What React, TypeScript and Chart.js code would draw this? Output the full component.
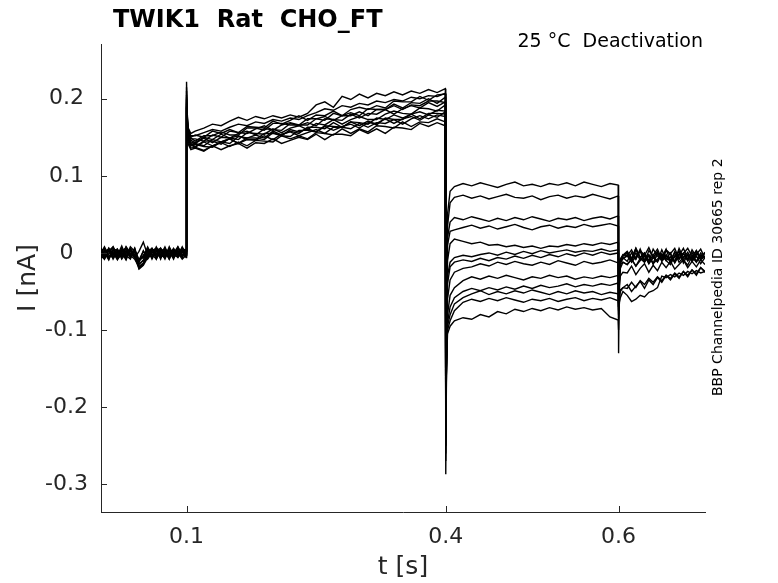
import { useEffect, useRef } from 'react'
import Chart from 'chart.js/auto'

// sample times [s], denser around the voltage steps
const time = [
  0, 0.005, 0.01, 0.015, 0.02, 0.025, 0.03, 0.035, 0.04, 0.045,
  0.05, 0.055, 0.06, 0.065, 0.07, 0.075, 0.08, 0.085, 0.09, 0.095, 0.0995,
  0.1, 0.1006, 0.102, 0.105,
  0.11, 0.12, 0.13, 0.14, 0.15, 0.16, 0.17, 0.18, 0.19, 0.2,
  0.21, 0.22, 0.23, 0.24, 0.25, 0.26, 0.27, 0.28, 0.29, 0.3,
  0.31, 0.32, 0.33, 0.34, 0.35, 0.36, 0.37, 0.38, 0.39, 0.3995,
  0.4, 0.4006, 0.402, 0.405,
  0.41, 0.42, 0.43, 0.44, 0.45, 0.46, 0.47, 0.48, 0.49, 0.5,
  0.51, 0.52, 0.53, 0.54, 0.55, 0.56, 0.57, 0.58, 0.59, 0.5995,
  0.6, 0.6006, 0.602, 0.605,
  0.61, 0.615, 0.62, 0.625, 0.63, 0.635, 0.64, 0.645, 0.65, 0.655,
  0.66, 0.665, 0.67, 0.675, 0.68, 0.685, 0.69, 0.695, 0.7,
]

// current [nA], one array per sweep
const sweep01 = [
  0.005, -0.003, 0.006, -0.008, 0.002, -0.005, 0.008, -0.002, 0.003, -0.009,
  -0.006, 0.005, -0.003, 0.006, -0.005, 0.002, -0.008, 0.005, -0.002, 0.006, 0.003,
  0.222, 0.185, 0.16, 0.15,
  0.153, 0.15, 0.158, 0.155, 0.16, 0.156, 0.164, 0.163, 0.162, 0.171,
  0.167, 0.172, 0.178, 0.172, 0.179, 0.178, 0.184, 0.178, 0.186, 0.189,
  0.186, 0.191, 0.188, 0.197, 0.196, 0.196, 0.203, 0.198, 0.205, 0.206,
  -0.287, -0.18, 0.05, 0.08,
  0.086, 0.09, 0.087, 0.091, 0.088, 0.085, 0.089, 0.092, 0.087, 0.089,
  0.086, 0.09, 0.088, 0.091, 0.087, 0.092, 0.089, 0.086, 0.09, 0.088,
  -0.13, -0.06, -0.015, -0.004,
  0.001, -0.009, 0.006, -0.006, -0.012, 0.003, -0.004, -0.011, 0.004, -0.008,
  0.0, -0.013, -0.003, 0.006, -0.008, 0.001, -0.011, -0.003, -0.006,
]
const sweep02 = [
  -0.006, 0.003, -0.002, 0.008, -0.005, 0.0, -0.009, 0.005, -0.003, -0.018,
  -0.013, -0.005, 0.006, -0.003, 0.002, -0.008, 0.005, 0.0, -0.006, 0.003, -0.002,
  0.205, 0.175, 0.155, 0.146,
  0.143, 0.15, 0.147, 0.154, 0.149, 0.155, 0.158, 0.153, 0.161, 0.16,
  0.159, 0.168, 0.165, 0.169, 0.165, 0.174, 0.173, 0.172, 0.18, 0.175,
  0.181, 0.18, 0.186, 0.18, 0.187, 0.191, 0.188, 0.195, 0.19, 0.196,
  -0.25, -0.16, 0.035, 0.065,
  0.072, 0.075, 0.071, 0.074, 0.07, 0.073, 0.076, 0.072, 0.071, 0.074,
  0.069, 0.073, 0.075, 0.071, 0.074, 0.072, 0.076, 0.073, 0.07, 0.074,
  -0.07, -0.03, -0.01, -0.006,
  -0.011, 0.0, -0.008, 0.005, -0.009, -0.002, -0.014, 0.0, -0.006, 0.005,
  -0.011, -0.004, 0.002, -0.013, -0.002, -0.008, 0.003, -0.009, -0.004,
]
const sweep03 = [
  0.002, -0.008, 0.005, 0.0, -0.003, 0.009, -0.005, 0.003, -0.006, 0.002,
  0.014, -0.003, 0.005, -0.008, 0.006, -0.002, 0.003, -0.005, 0.008, -0.003, 0.0,
  0.215, 0.18, 0.162, 0.155,
  0.158, 0.162, 0.167, 0.165, 0.171, 0.176, 0.172, 0.177, 0.174, 0.178,
  0.175, 0.179, 0.176, 0.181, 0.192, 0.196, 0.189, 0.203, 0.199, 0.206,
  0.201, 0.207, 0.204, 0.209, 0.205, 0.21, 0.207, 0.212, 0.208, 0.213,
  -0.27, -0.19, 0.02, 0.04,
  0.046, 0.043, 0.047, 0.044, 0.041, 0.045, 0.042, 0.046, 0.043, 0.047,
  0.044, 0.041, 0.045, 0.043, 0.046, 0.042, 0.045, 0.047, 0.044, 0.048,
  -0.085, -0.04, -0.012, -0.003,
  0.002, -0.007, 0.006, -0.006, 0.0, -0.011, 0.005, -0.004, -0.009, 0.003,
  -0.002, -0.011, 0.006, -0.006, 0.001, -0.009, -0.002, 0.005, -0.007,
]
const sweep04 = [
  -0.003, 0.006, -0.008, 0.003, 0.005, -0.006, 0.002, -0.005, 0.006, -0.02,
  -0.015, 0.003, -0.006, 0.002, -0.003, 0.008, -0.005, 0.003, 0.0, -0.008, -0.003,
  0.195, 0.17, 0.15, 0.141,
  0.142, 0.139, 0.147, 0.144, 0.142, 0.151, 0.149, 0.153, 0.149, 0.158,
  0.153, 0.158, 0.155, 0.163, 0.163, 0.161, 0.169, 0.163, 0.17, 0.169,
  0.167, 0.175, 0.173, 0.179, 0.175, 0.18, 0.183, 0.179, 0.185, 0.184,
  -0.24, -0.17, 0.01, 0.028,
  0.03, 0.033, 0.036, 0.032, 0.035, 0.031, 0.034, 0.037, 0.033, 0.03,
  0.034, 0.036, 0.032, 0.035, 0.033, 0.037, 0.034, 0.036, 0.038, 0.035,
  -0.065, -0.03, -0.012, -0.008,
  -0.002, -0.012, -0.005, 0.002, -0.011, -0.004, -0.014, 0.0, -0.009, -0.002,
  -0.012, -0.005, 0.002, -0.009, -0.016, -0.004, -0.011, 0.0, -0.007,
]
const sweep05 = [
  0.008, -0.002, 0.003, -0.006, 0.0, 0.005, -0.008, 0.006, -0.003, -0.009,
  0.002, -0.005, 0.003, 0.006, -0.006, 0.0, 0.005, -0.003, 0.006, -0.005, 0.002,
  0.2, 0.172, 0.156, 0.149,
  0.145, 0.152, 0.152, 0.157, 0.153, 0.153, 0.162, 0.162, 0.159, 0.168,
  0.168, 0.166, 0.166, 0.174, 0.174, 0.172, 0.181, 0.178, 0.182, 0.178,
  0.187, 0.186, 0.186, 0.193, 0.188, 0.195, 0.194, 0.2, 0.194, 0.202,
  -0.23, -0.15, -0.01, 0.012,
  0.018, 0.015, 0.012, 0.014, 0.01, 0.011, 0.008, 0.01, 0.007, 0.009,
  0.006, 0.009, 0.008, 0.011, 0.009, 0.012, 0.01, 0.013, 0.011, 0.014,
  -0.06, -0.025, -0.008, -0.002,
  -0.004, 0.004, -0.008, 0.003, -0.003, 0.007, -0.006, 0.001, -0.01, 0.004,
  -0.001, 0.006, -0.008, -0.001, 0.006, -0.004, 0.003, -0.006, 0.001,
]
const sweep06 = [
  -0.005, 0.0, -0.009, 0.005, -0.002, 0.003, 0.006, -0.006, 0.002, -0.014,
  -0.01, 0.006, -0.002, -0.008, 0.003, 0.005, -0.006, 0.002, -0.003, 0.008, -0.002,
  0.19, 0.165, 0.148, 0.139,
  0.141, 0.138, 0.137, 0.144, 0.148, 0.142, 0.147, 0.146, 0.152, 0.147,
  0.154, 0.157, 0.152, 0.156, 0.16, 0.155, 0.163, 0.163, 0.161, 0.168,
  0.163, 0.169, 0.168, 0.173, 0.167, 0.174, 0.178, 0.174, 0.179, 0.177,
  -0.22, -0.14, -0.03, -0.012,
  -0.006, -0.003, -0.005, -0.002, 0.0, -0.003, 0.001, -0.002, 0.002, -0.001,
  0.003, 0.0, 0.002, 0.004, 0.001, 0.003, 0.002, 0.005, 0.002, 0.004,
  -0.05, -0.02, -0.01, -0.007,
  -0.004, -0.011, 0.0, -0.009, -0.002, -0.014, -0.006, 0.002, -0.011, -0.004,
  -0.009, 0.0, -0.012, -0.006, -0.002, -0.011, -0.004, -0.014, -0.006,
]
const sweep07 = [
  0.003, -0.005, 0.002, 0.006, -0.008, -0.002, 0.005, -0.003, -0.008, -0.018,
  -0.013, -0.002, 0.005, 0.0, -0.006, 0.003, -0.002, 0.006, -0.005, 0.0, 0.005,
  0.21, 0.178, 0.16, 0.152,
  0.152, 0.156, 0.16, 0.158, 0.163, 0.167, 0.165, 0.17, 0.168, 0.173,
  0.171, 0.175, 0.173, 0.178, 0.182, 0.187, 0.185, 0.191, 0.189, 0.194,
  0.192, 0.197, 0.195, 0.199, 0.197, 0.202, 0.2, 0.204, 0.203, 0.207,
  -0.26, -0.17, -0.04, -0.018,
  -0.012, -0.009, -0.011, -0.007, -0.01, -0.006, -0.008, -0.004, -0.007, -0.003,
  -0.006, -0.002, -0.005, -0.001, -0.004, 0.0, -0.003, 0.001, -0.002, 0.0,
  -0.055, -0.022, -0.008, -0.004,
  0.0, -0.008, 0.004, -0.006, 0.0, -0.01, -0.003, 0.005, -0.008, -0.003,
  -0.012, 0.002, -0.006, 0.0, -0.01, 0.004, -0.005, -0.008, 0.0,
]
const sweep08 = [
  -0.002, 0.008, -0.003, -0.006, 0.003, 0.0, -0.005, 0.008, 0.002, -0.011,
  -0.003, 0.005, -0.008, 0.003, 0.006, -0.005, 0.0, -0.006, 0.003, -0.002, -0.005,
  0.198, 0.17, 0.152, 0.144,
  0.142, 0.149, 0.143, 0.15, 0.149, 0.147, 0.156, 0.155, 0.154, 0.161,
  0.156, 0.162, 0.165, 0.16, 0.168, 0.166, 0.173, 0.167, 0.173, 0.177,
  0.173, 0.173, 0.18, 0.184, 0.181, 0.18, 0.188, 0.187, 0.184, 0.192,
  -0.21, -0.13, -0.06, -0.035,
  -0.025, -0.02, -0.018, -0.014, -0.017, -0.012, -0.015, -0.011, -0.014, -0.016,
  -0.012, -0.015, -0.01, -0.013, -0.016, -0.011, -0.014, -0.012, -0.009, -0.013,
  -0.06, -0.03, -0.015, -0.012,
  -0.015, -0.008, -0.017, -0.007, -0.012, -0.003, -0.014, -0.008, -0.001, -0.01,
  -0.005, -0.012, -0.001, -0.009, -0.003, -0.01, 0.0, -0.007, -0.005,
]
const sweep09 = [
  0.0, -0.006, 0.006, -0.003, 0.005, -0.008, 0.0, 0.003, -0.005, -0.021,
  -0.016, -0.006, 0.002, 0.005, -0.003, -0.006, 0.006, -0.002, 0.002, -0.006, 0.003,
  0.188, 0.162, 0.144, 0.136,
  0.137, 0.133, 0.139, 0.143, 0.138, 0.144, 0.139, 0.146, 0.145, 0.144,
  0.152, 0.148, 0.152, 0.148, 0.156, 0.155, 0.153, 0.161, 0.155, 0.161,
  0.157, 0.165, 0.164, 0.162, 0.17, 0.164, 0.17, 0.169, 0.174, 0.17,
  -0.2, -0.14, -0.08, -0.055,
  -0.045, -0.036, -0.031, -0.034, -0.03, -0.033, -0.029, -0.032, -0.035, -0.031,
  -0.033, -0.029, -0.032, -0.03, -0.034, -0.031, -0.033, -0.03, -0.032, -0.029,
  -0.065, -0.055, -0.048, -0.045,
  -0.046, -0.038, -0.045, -0.036, -0.041, -0.033, -0.038, -0.031, -0.036, -0.029,
  -0.033, -0.026, -0.031, -0.024, -0.029, -0.022, -0.027, -0.019, -0.024,
]
const sweep10 = [
  0.006, -0.003, -0.005, 0.002, -0.006, 0.006, -0.003, -0.008, 0.005, -0.015,
  -0.009, 0.002, 0.006, -0.005, 0.0, 0.003, -0.008, 0.005, -0.003, 0.002, -0.006,
  0.202, 0.174, 0.155, 0.148,
  0.148, 0.145, 0.153, 0.15, 0.158, 0.156, 0.155, 0.161, 0.165, 0.159,
  0.166, 0.169, 0.166, 0.166, 0.174, 0.177, 0.172, 0.178, 0.178, 0.183,
  0.178, 0.186, 0.186, 0.191, 0.186, 0.192, 0.191, 0.197, 0.197, 0.195,
  -0.24, -0.16, -0.09, -0.07,
  -0.058, -0.05, -0.046, -0.049, -0.045, -0.048, -0.044, -0.047, -0.043, -0.046,
  -0.042, -0.045, -0.043, -0.04, -0.044, -0.041, -0.043, -0.04, -0.042, -0.039,
  -0.07, -0.04, -0.02, -0.012,
  -0.015, -0.008, -0.017, -0.01, -0.004, -0.013, -0.006, -0.012, -0.002, -0.01,
  -0.015, -0.004, -0.008, -0.001, -0.01, -0.005, -0.012, -0.003, -0.007,
]
const sweep11 = [
  -0.008, 0.002, 0.005, -0.005, 0.002, -0.003, 0.008, 0.0, -0.006, -0.012,
  0.003, -0.008, 0.0, 0.005, -0.008, 0.006, -0.003, 0.0, 0.008, -0.003, 0.002,
  0.193, 0.166, 0.15, 0.142,
  0.138, 0.145, 0.145, 0.141, 0.149, 0.152, 0.147, 0.147, 0.155, 0.155,
  0.152, 0.16, 0.157, 0.161, 0.157, 0.165, 0.164, 0.163, 0.17, 0.165,
  0.171, 0.166, 0.175, 0.173, 0.173, 0.18, 0.174, 0.181, 0.181, 0.18,
  -0.23, -0.15, -0.095, -0.08,
  -0.066, -0.058, -0.053, -0.049, -0.054, -0.05, -0.053, -0.049, -0.052, -0.048,
  -0.051, -0.054, -0.05, -0.053, -0.049, -0.052, -0.05, -0.054, -0.051, -0.053,
  -0.075, -0.065, -0.058, -0.05,
  -0.055, -0.063, -0.06, -0.055, -0.057, -0.051, -0.049, -0.045, -0.03, -0.032,
  -0.028, -0.031, -0.026, -0.029, -0.024, -0.027, -0.023, -0.026, -0.024,
]
const sweep12 = [
  0.003, 0.005, -0.006, 0.0, -0.009, 0.003, -0.002, 0.005, -0.002, -0.019,
  -0.014, -0.003, -0.005, 0.008, -0.002, -0.003, 0.002, -0.008, 0.005, 0.003, -0.003,
  0.185, 0.158, 0.141, 0.134,
  0.136, 0.132, 0.139, 0.134, 0.139, 0.142, 0.136, 0.143, 0.142, 0.148,
  0.142, 0.146, 0.15, 0.147, 0.154, 0.147, 0.154, 0.154, 0.152, 0.16,
  0.155, 0.161, 0.155, 0.163, 0.162, 0.16, 0.168, 0.164, 0.169, 0.165,
  -0.22, -0.14, -0.1, -0.088,
  -0.075, -0.064, -0.06, -0.063, -0.059, -0.062, -0.058, -0.061, -0.064, -0.06,
  -0.062, -0.059, -0.063, -0.06, -0.058, -0.062, -0.059, -0.061, -0.058, -0.062,
  -0.08, -0.045, -0.03, -0.025,
  -0.026, -0.017, -0.028, -0.02, -0.014, -0.025, -0.016, -0.023, -0.012, -0.019,
  -0.011, -0.021, -0.015, -0.009, -0.019, -0.011, -0.018, -0.009, -0.015,
]
const sweep13 = [
  -0.003, -0.008, 0.003, 0.008, -0.002, -0.005, 0.003, -0.006, 0.006, -0.01,
  -0.005, 0.008, -0.003, -0.002, 0.005, -0.006, 0.008, -0.003, -0.005, 0.005, 0.0,
  0.19, 0.163, 0.147, 0.14,
  0.137, 0.144, 0.139, 0.144, 0.148, 0.142, 0.149, 0.149, 0.147, 0.156,
  0.152, 0.151, 0.159, 0.159, 0.157, 0.164, 0.159, 0.164, 0.167, 0.162,
  0.169, 0.168, 0.174, 0.168, 0.174, 0.177, 0.172, 0.179, 0.176, 0.183,
  -0.25, -0.16, -0.105, -0.095,
  -0.088, -0.084, -0.086, -0.08, -0.083, -0.076, -0.079, -0.073, -0.076, -0.072,
  -0.075, -0.071, -0.074, -0.07, -0.073, -0.071, -0.074, -0.072, -0.083, -0.087,
  -0.1, -0.07, -0.05, -0.045,
  -0.041, -0.05, -0.043, -0.037, -0.046, -0.035, -0.041, -0.032, -0.038, -0.029,
  -0.035, -0.027, -0.033, -0.024, -0.031, -0.022, -0.029, -0.019, -0.025,
]

const sweeps = [
  sweep01, sweep02, sweep03, sweep04, sweep05, sweep06, sweep07,
  sweep08, sweep09, sweep10, sweep11, sweep12, sweep13,
]

const xTicks = [0.1, 0.4, 0.6]
const yTicks = [-0.3, -0.2, -0.1, 0, 0.1, 0.2]

const axisColor = '#262626'
const fontFamily = '"DejaVu Sans", sans-serif'

// inward tick marks plus the title and side notes
const decorations = {
  id: 'decorations',
  afterDraw(chart: any) {
    const { ctx, chartArea, scales } = chart
    ctx.save()
    ctx.strokeStyle = axisColor
    ctx.lineWidth = 1
    ctx.beginPath()
    for (const v of xTicks) {
      const x = Math.round(scales.x.getPixelForValue(v)) + 0.5
      ctx.moveTo(x, chartArea.bottom)
      ctx.lineTo(x, chartArea.bottom - 6)
    }
    for (const v of yTicks) {
      const y = Math.round(scales.y.getPixelForValue(v)) + 0.5
      ctx.moveTo(chartArea.left, y)
      ctx.lineTo(chartArea.left + 6, y)
    }
    ctx.stroke()

    ctx.fillStyle = '#000'
    ctx.textBaseline = 'alphabetic'
    ctx.font = 'bold 24px ' + fontFamily
    ctx.textAlign = 'left'
    ctx.fillText('TWIK1  Rat  CHO_FT', 113, 27)

    ctx.font = '19px ' + fontFamily
    ctx.textAlign = 'right'
    ctx.fillText('25 °C  Deactivation', 703, 47)

    ctx.font = '14px ' + fontFamily
    ctx.textAlign = 'left'
    ctx.translate(721.5, 396)
    ctx.rotate(-Math.PI / 2)
    ctx.fillText('BBP Channelpedia ID 30665 rep 2', 0, 0)
    ctx.restore()
  },
}

export default function App() {
  const canvasRef = useRef<HTMLCanvasElement>(null)

  useEffect(() => {
    if (!canvasRef.current) return

    const chart = new Chart(canvasRef.current, {
      type: 'line',
      data: {
        datasets: sweeps.map((values) => ({
          data: time.map((t, i) => ({ x: t, y: values[i] })),
          borderColor: '#000',
          borderWidth: 1.4,
          pointRadius: 0,
          fill: false,
          tension: 0,
        })),
      },
      options: {
        responsive: false,
        animation: false,
        events: [],
        layout: { padding: { top: 44, right: 73, left: 0, bottom: 0 } },
        plugins: {
          legend: { display: false },
          tooltip: { enabled: false },
        },
        scales: {
          x: {
            type: 'linear',
            min: 0.001,
            max: 0.7,
            afterBuildTicks: (scale: any) => {
              scale.ticks = xTicks.map((value) => ({ value }))
            },
            afterFit: (scale: any) => {
              scale.height = 71
            },
            grid: { display: false, drawTicks: false },
            border: { display: true, color: axisColor, width: 1 },
            ticks: {
              color: axisColor,
              font: { family: fontFamily, size: 22 },
              padding: 12,
              maxRotation: 0,
              callback: (v: any) => String(v),
            },
            title: {
              display: true,
              text: 't [s]',
              color: axisColor,
              font: { family: fontFamily, size: 25 },
              padding: { top: 0, bottom: 1 },
            },
          },
          y: {
            type: 'linear',
            min: -0.336,
            max: 0.271,
            afterBuildTicks: (scale: any) => {
              scale.ticks = yTicks.map((value) => ({ value }))
            },
            afterFit: (scale: any) => {
              scale.width = 101
            },
            grid: { display: false, drawTicks: false },
            border: { display: true, color: axisColor, width: 1 },
            ticks: {
              color: axisColor,
              font: { family: fontFamily, size: 22 },
              padding: 13,
              crossAlign: 'center',
              callback: (v: any) => String(v),
            },
            title: {
              display: true,
              text: 'I [nA]',
              color: axisColor,
              font: { family: fontFamily, size: 25 },
              padding: { top: 13, bottom: 0 },
            },
          },
        },
      },
      plugins: [decorations],
    })

    return () => chart.destroy()
  }, [])

  return (
    <div style={{ position: 'absolute', left: 0, top: 0, width: 778, height: 583, background: '#fff' }}>
      <canvas ref={canvasRef} width={778} height={583}></canvas>
    </div>
  )
}
